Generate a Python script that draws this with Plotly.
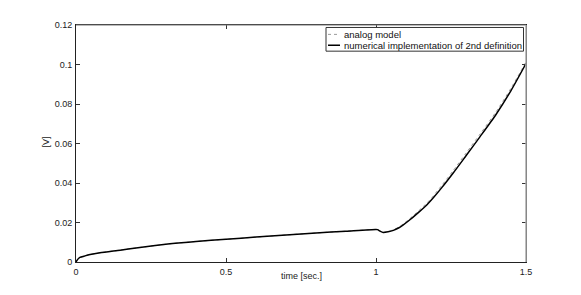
import plotly.graph_objects as go

# ---- data ----
time_num = [0, 0.005, 0.013, 0.03, 0.047, 0.08, 0.147, 0.2, 0.313, 0.4, 0.5, 0.6, 0.7,
            0.8, 0.9, 1.0, 1.005, 1.015, 1.024, 1.04, 1.058, 1.075, 1.091, 1.11, 1.141,
            1.17, 1.191, 1.22, 1.258, 1.3, 1.347, 1.4, 1.45, 1.5]
v_num = [0, 0.0012, 0.0023, 0.0031, 0.0038, 0.0047, 0.006, 0.0071, 0.0092, 0.0104, 0.0115,
         0.0126, 0.0137, 0.0147, 0.0156, 0.0165, 0.0164, 0.0155, 0.0150, 0.0153, 0.0160,
         0.0172, 0.0188, 0.0210, 0.0250, 0.0290, 0.0325, 0.0378, 0.0452, 0.0538, 0.0635,
         0.0747, 0.0868, 0.1005]

time_analog = [0, 0.005, 0.013, 0.03, 0.047, 0.08, 0.147, 0.2, 0.313, 0.4, 0.5, 0.6, 0.7,
               0.8, 0.9, 1.0, 1.005, 1.015, 1.024, 1.04, 1.058, 1.075, 1.091, 1.11, 1.141,
               1.17, 1.191, 1.22, 1.258, 1.3, 1.347, 1.4, 1.45, 1.5]
v_analog = [0, 0.0012, 0.0023, 0.0031, 0.0038, 0.0047, 0.006, 0.0071, 0.0092, 0.0104, 0.0115,
            0.0126, 0.0137, 0.0147, 0.0156, 0.0165, 0.0164, 0.0156, 0.0151, 0.0155, 0.0163,
            0.0176, 0.0193, 0.0216, 0.0258, 0.0299, 0.0335, 0.0389, 0.0464, 0.0551, 0.0648,
            0.0760, 0.0880, 0.1013]

x_ticks = [0, 0.5, 1, 1.5]
x_ticklabels = ["0", "0.5", "1", "1.5"]
y_ticks = [0, 0.02, 0.04, 0.06, 0.08, 0.1, 0.12]
y_ticklabels = ["0", "0.02", "0.04", "0.06", "0.08", "0.1", "0.12"]

series_names = ["analog model", "numerical implementation of 2nd definition"]

FONT = "Liberation Sans, Arial, Helvetica, sans-serif"

fig = go.Figure()
fig.add_trace(go.Scatter(x=time_analog, y=v_analog, mode="lines", name=series_names[0],
                         line=dict(color="#9a9a9a", width=1, dash="dot", shape="spline",
                                   smoothing=0.6),
                         showlegend=False))
fig.add_trace(go.Scatter(x=time_num, y=v_num, mode="lines", name=series_names[1],
                         line=dict(color="black", width=1.5, shape="spline", smoothing=0.6),
                         showlegend=False))

# the page body has an 8px default margin, so figure coords = page coords - 8
OFF = 8
W, H = 581, 295
PL, PR, PT, PB = 76, 526, 22, 262          # plot area in page pixels
L, T = PL - OFF, PT - OFF
pw, ph = PR - PL, PB - PT
R = W - L - pw
B = H - T - ph


def px(xp):
    return (xp - PL) / pw


def py(yp):
    return 1 - (yp - PT) / ph


axis_common = dict(showgrid=False, zeroline=False, ticks="inside", ticklen=4,
                   tickcolor="#333", showline=True, linecolor="#222", linewidth=1,
                   mirror="ticks", tickfont=dict(family=FONT, size=9, color="#222"))

fig.update_xaxes(range=[0, 1.5], tickvals=x_ticks, ticktext=x_ticklabels, ticklabelstandoff=1,
                 **axis_common)
fig.update_yaxes(range=[0, 0.12], tickvals=y_ticks, ticktext=y_ticklabels, ticklabelstandoff=1,
                 **axis_common)

shapes = [
    dict(type="line", xref="paper", yref="paper", x0=0, x1=1, y0=1, y1=1,
         line=dict(color="#777", width=1)),
    dict(type="line", xref="paper", yref="paper", x0=1, x1=1, y0=0, y1=1,
         line=dict(color="#aaa", width=1.5)),
    # legend box
    dict(type="rect", xref="paper", yref="paper", x0=px(326), x1=px(523.5),
         y0=py(48.5), y1=py(24.5), line=dict(color="#333", width=1), fillcolor="white"),
    dict(type="line", xref="paper", yref="paper", x0=px(328), x1=px(340),
         y0=py(31.5), y1=py(31.5), line=dict(color="#9a9a9a", width=1, dash="dot")),
    dict(type="line", xref="paper", yref="paper", x0=px(328), x1=px(340),
         y0=py(42.5), y1=py(42.5), line=dict(color="black", width=1.5)),
]

annotations = [
    dict(text=series_names[0], xref="paper", yref="paper", x=px(341.5), y=py(31.5),
         xanchor="left", yanchor="middle", showarrow=False,
         font=dict(family=FONT, size=9.5, color="#111")),
    dict(text=series_names[1], xref="paper", yref="paper", x=px(341.5), y=py(42.5),
         xanchor="left", yanchor="middle", showarrow=False,
         font=dict(family=FONT, size=9.5, color="#111")),
    dict(text="time [sec.]", xref="paper", yref="paper", x=px(301), y=py(276),
         xanchor="center", yanchor="middle", showarrow=False,
         font=dict(family=FONT, size=9, color="#222")),
    dict(text="[V]", xref="paper", yref="paper", x=px(46), y=py(141),
         xanchor="center", yanchor="middle", showarrow=False, textangle=-90,
         font=dict(family=FONT, size=9, color="#222")),
]

fig.update_layout(width=W, height=H, margin=dict(l=L, r=R, t=T, b=B),
                  plot_bgcolor="white", paper_bgcolor="white",
                  shapes=shapes, annotations=annotations,
                  font=dict(family=FONT, size=10, color="#222"))

fig.write_html("out.html")
